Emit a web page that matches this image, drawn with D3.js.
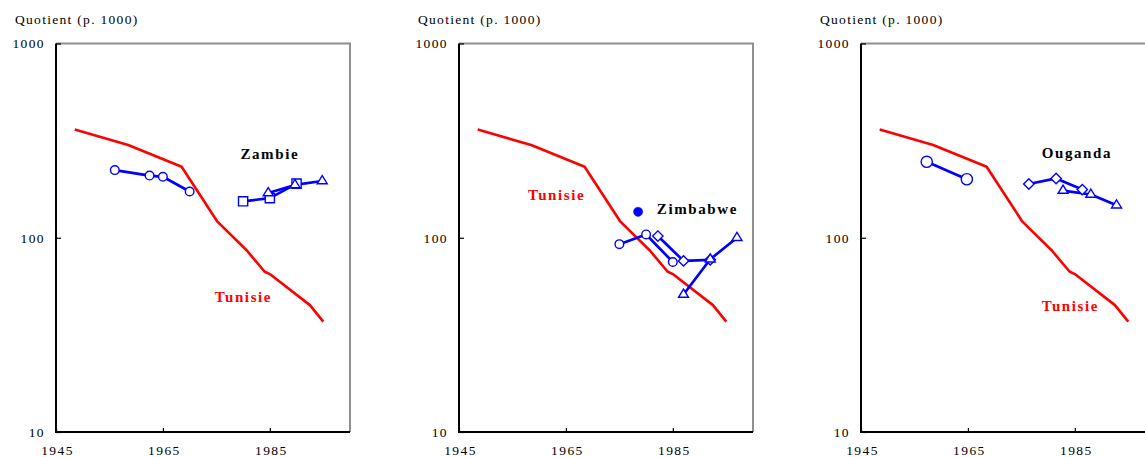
<!DOCTYPE html>
<html>
<head>
<meta charset="utf-8">
<script src="https://cdn.jsdelivr.net/npm/d3@7"></script>
<style>
  body { margin: 0; background: #fff; }
  svg { display: block; font-family: "Liberation Serif", "Times New Roman", serif; }
  .tick text { font-size: 13.5px; letter-spacing: 1.4px; fill: #000; }
  .ytitle { font-size: 13.5px; letter-spacing: 1.3px; }
  .lbl { font-size: 15px; font-weight: bold; letter-spacing: 1.6px; }
</style>
</head>
<body>
<svg id="chart" width="1145" height="457"></svg>
<script>
'use strict';

// Tunisie (reference, same in every panel)
var tunisieYears = [1948.5, 1958.5, 1968.5, 1975.2, 1980.7, 1984, 1985, 1992.5, 1995];
var tunisieValues = [361, 300, 232, 121, 86, 67, 65, 45, 37];

// Zambie
var zamCircleYears = [1956, 1962.5, 1965, 1970];
var zamCircleValues = [223, 209, 206, 173];
var zamSquareYears = [1980, 1985, 1990];
var zamSquareValues = [154, 160, 190];
var zamTriangleYears = [1984.7, 1989.7, 1994.8];
var zamTriangleValues = [170, 187, 196];

// Zimbabwe
var zimDotYears = [1978.5];
var zimDotValues = [136];
var zimCircleYears = [1975, 1980, 1985];
var zimCircleValues = [92.7, 104, 75];
var zimDiamondYears = [1982.2, 1987, 1992];
var zimDiamondValues = [102, 76, 77];
var zimTriangleYears = [1987, 1992, 1997];
var zimTriangleValues = [51, 77.5, 100];

// Ouganda
var ougCircleYears = [1957.3, 1964.8];
var ougCircleValues = [246, 200];
var ougDiamondYears = [1976.4, 1981.5, 1986.4];
var ougDiamondValues = [189, 202, 177];
var ougTriangleYears = [1982.8, 1988, 1992.8];
var ougTriangleValues = [175, 167, 147];

var xTicks = [1945, 1965, 1985];
var yTicks = [10, 100, 1000];
var yTitle = "Quotient (p. 1000)";

function zip(xs, vs) {
  return xs.map(function (x, i) { return [x, vs[i]]; });
}

var panels = [
  {
    left: 56, circleR: 4.3,
    series: [
      {shape: "circle", pts: zip(zamCircleYears, zamCircleValues)},
      {shape: "square", pts: zip(zamSquareYears, zamSquareValues)},
      {shape: "triangle", pts: zip(zamTriangleYears, zamTriangleValues)}
    ],
    labels: [
      {text: "Zambie", at: [1979.5, 254], color: "#000"},
      {text: "Tunisie", at: [1974.7, 46.7], color: "#ff0000"}
    ]
  },
  {
    left: 459, circleR: 4.3,
    series: [
      {shape: "circle", pts: zip(zimCircleYears, zimCircleValues)},
      {shape: "diamond", pts: zip(zimDiamondYears, zimDiamondValues)},
      {shape: "triangle", pts: zip(zimTriangleYears, zimTriangleValues)},
      {shape: "dot", pts: zip(zimDotYears, zimDotValues), noLine: true}
    ],
    labels: [
      {text: "Tunisie", at: [1957.9, 157], color: "#ff0000"},
      {text: "Zimbabwe", at: [1982.0, 132], color: "#000"}
    ]
  },
  {
    left: 861, circleR: 5.6,
    series: [
      {shape: "circle", pts: zip(ougCircleYears, ougCircleValues)},
      {shape: "diamond", pts: zip(ougDiamondYears, ougDiamondValues)},
      {shape: "triangle", pts: zip(ougTriangleYears, ougTriangleValues)}
    ],
    labels: [
      {text: "Ouganda", at: [1978.8, 256], color: "#000"},
      {text: "Tunisie", at: [1978.8, 42], color: "#ff0000"}
    ]
  }
];

var plotW = 294, plotTop = 43.5, plotBottom = 432;
var svg = d3.select("#chart");
var line = d3.line();

function markerPath(shape) {
  if (shape == "square") {
    var s = 4.6;
    return "M" + -s + "," + -s + "H" + s + "V" + s + "H" + -s + "Z";
  }
  if (shape == "diamond") {
    var d = 5.2;
    return "M0," + -d + "L" + d + ",0L0," + d + "L" + -d + ",0Z";
  }
  if (shape == "triangle") {
    var h = 8.2, w = 5;
    return "M0," + (-h * 2 / 3) + "L" + w + "," + (h / 3) + "L" + -w + "," + (h / 3) + "Z";
  }
  return null;
}

panels.forEach(function (p) {
  var x = d3.scaleLinear().domain([1945, 2000]).range([p.left, p.left + plotW]);
  var y = d3.scaleLog().domain([10, 1000]).range([plotBottom, plotTop]);
  var g = svg.append("g");

  // frame: top/right grey, left/bottom black
  g.append("path")
    .attr("d", "M" + x.range()[0] + "," + plotTop + "H" + x.range()[1] + "V" + plotBottom)
    .attr("fill", "none").attr("stroke", "#8f8f8f").attr("stroke-width", 2);

  var yAxis = g.append("g")
    .attr("transform", "translate(" + p.left + ",0)")
    .call(d3.axisLeft(y).tickValues(yTicks).tickFormat(d3.format("d"))
      .tickSizeInner(-5).tickSizeOuter(0).tickPadding(11))
    .attr("font-family", null).attr("font-size", null);
  yAxis.select(".domain").remove();
  yAxis.selectAll(".tick line").attr("stroke", "#000").attr("stroke-width", 1.2);

  var xAxis = g.append("g")
    .attr("transform", "translate(0," + plotBottom + ")")
    .call(d3.axisBottom(x).tickValues(xTicks).tickFormat(d3.format("d"))
      .tickSizeInner(-4).tickSizeOuter(0).tickPadding(13))
    .attr("font-family", null).attr("font-size", null);
  xAxis.select(".domain").remove();
  xAxis.selectAll(".tick line").attr("stroke", "#000").attr("stroke-width", 1.2);
  xAxis.selectAll(".tick text").attr("dx", "1px");

  g.append("path")
    .attr("d", "M" + p.left + "," + plotTop + "V" + plotBottom + "H" + x.range()[1])
    .attr("fill", "none").attr("stroke", "#000").attr("stroke-width", 2);

  g.append("text").attr("class", "ytitle")
    .attr("x", p.left - 41).attr("y", 24)
    .text(yTitle);

  // Tunisie line
  g.append("path")
    .attr("d", line(zip(tunisieYears, tunisieValues).map(function (d) { return [x(d[0]), y(d[1])]; })))
    .attr("fill", "none").attr("stroke", "#ff0000").attr("stroke-width", 2.6)
    .attr("stroke-linejoin", "round");

  p.series.forEach(function (s) {
    var pts = s.pts.map(function (d) { return [x(d[0]), y(d[1])]; });
    if (!s.noLine) {
      g.append("path").attr("d", line(pts))
        .attr("fill", "none").attr("stroke", "#0000ff").attr("stroke-width", 2.7)
        .attr("stroke-linejoin", "round");
    }
  });

  p.series.forEach(function (s) {
    var pts = s.pts.map(function (d) { return [x(d[0]), y(d[1])]; });
    pts.forEach(function (pt) {
      if (s.shape == "circle" || s.shape == "dot") {
        g.append("circle").attr("cx", pt[0]).attr("cy", pt[1])
          .attr("r", s.shape == "dot" ? 4.6 : p.circleR)
          .attr("fill", s.shape == "dot" ? "#0000ff" : "#fff")
          .attr("stroke", "#0000ff").attr("stroke-width", s.shape == "dot" ? 0.5 : 1.4);
      } else {
        g.append("path").attr("d", markerPath(s.shape))
          .attr("transform", "translate(" + pt[0] + "," + pt[1] + ")")
          .attr("fill", "#fff").attr("stroke", "#0000ff").attr("stroke-width", 1.4);
      }
    });
  });

  p.labels.forEach(function (l) {
    g.append("text").attr("class", "lbl")
      .attr("x", x(l.at[0])).attr("y", y(l.at[1]))
      .attr("fill", l.color)
      .text(l.text);
  });
});
</script>
</body>
</html>
